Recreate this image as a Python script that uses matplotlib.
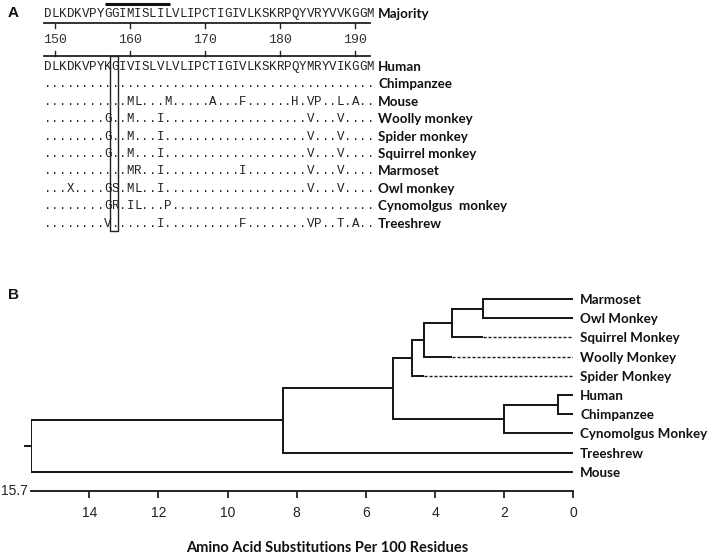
import matplotlib
matplotlib.use("Agg")
import matplotlib.pyplot as plt
from matplotlib.patches import Rectangle

# ---------------- Panel A data ----------------
majority = "DLKDKVPYGGIMISLILVLIPCTIGIVLKSKRPQYVRYVVKGGM"
species_a = ["Human", "Chimpanzee", "Mouse", "Woolly monkey", "Spider monkey",
             "Squirrel monkey", "Marmoset", "Owl monkey", "Cynomolgus  monkey", "Treeshrew"]
sequences = [
    "DLKDKVPYKGIVISLVLVLIPCTIGIVLKSKRPQYMRYVIKGGM",
    "............................................",
    "...........ML...M.....A...F......H.VP..L.A..",
    "........G..M...I...................V...V....",
    "........G..M...I...................V...V....",
    "........G..M...I...................V...V....",
    "...........MR..I..........I........V...V....",
    "...X....GS.ML..I...................V...V....",
    "........GR.IL...P...........................",
    "........V......I..........F........VP..T.A..",
]
first_residue = 149
ruler_ticks = [150, 160, 170, 180, 190]
overline_span = (8.1, 16.8)      # residue-column span of the bar above the majority
box_column = 9                    # boxed alignment column

# ---------------- Panel B data ----------------
leaves = ["Marmoset", "Owl Monkey", "Squirrel Monkey", "Woolly Monkey", "Spider Monkey",
          "Human", "Chimpanzee", "Cynomolgus Monkey", "Treeshrew", "Mouse"]
# nested (height, left, right); ints are leaf indices
tree = (15.7,
        (8.40,
         (5.22,
          (4.67, (4.32, (3.51, (2.61, 0, 1), 2), 3), 4),
          (2.00, (0.44, 5, 6), 7)),
         8),
        9)
dash_from = [None, None, 2.61, 3.51, 4.32, None, None, None, None, None]
x_ticks = [14, 12, 10, 8, 6, 4, 2, 0]
root_value = 15.7

W, H = 709, 556
fig = plt.figure(figsize=(W / 100, H / 100), dpi=100)

LABEL_FONT = dict(family=["Lato", "DejaVu Sans"], fontweight="bold", fontsize=9.6)
MONO = dict(family=["Liberation Mono", "DejaVu Sans Mono"], fontsize=9)

# ---------------- Panel A ----------------
x0, cw = 44.0, 7.5     # px origin and char width
y0, rh = 66.0, 17.4    # px of first row, row height
topA = 245.0
axA = fig.add_axes([0, 1 - topA / H, 1, topA / H])
axA.set_xlim((0 - x0) / cw, (W - x0) / cw)
axA.set_ylim((topA - y0) / rh, (0 - y0) / rh)
axA.axis("off")

def prow(px):
    return (px - y0) / rh

lw_line = 1.3
ncol = len(majority)
# majority
maj_y = prow(13)
for i, ch in enumerate(majority):
    axA.text(i + 0.5, maj_y + 0.23, ch, ha="center", va="baseline", color="#222222", **MONO)
axA.text(ncol + 0.55, maj_y + 0.29, "Majority", ha="left", va="baseline", color="#111111", **LABEL_FONT)
# overline
axA.plot(overline_span, [prow(4)] * 2, color="#111111", lw=2.2, solid_capstyle="butt")
# ruler
rt, rb = prow(23), prow(56)
axA.plot([0, ncol - 0.5], [rt, rt], color="#222222", lw=lw_line)
axA.plot([0, ncol - 0.5], [rb, rb], color="#222222", lw=lw_line)
for r in ruler_ticks:
    c = r - first_residue + 0.5
    axA.plot([c, c], [rt, prow(28)], color="#222222", lw=1.0)
    axA.plot([c, c], [rb, prow(51)], color="#222222", lw=1.0)
    axA.text(c, prow(40), str(r), ha="center", va="center", color="#333333",
             family=["Liberation Mono", "DejaVu Sans Mono"], fontsize=9.5)
# sequences
for row, (name, seq) in enumerate(zip(species_a, sequences)):
    seq = seq.ljust(ncol, ".")[:ncol]
    for i, ch in enumerate(seq):
        axA.text(i + 0.5, row + 0.23, ch, ha="center", va="baseline", color="#222222", **MONO)
    axA.text(ncol + 0.55, row + 0.29, name, ha="left", va="baseline", color="#111111", **LABEL_FONT)
# box
axA.add_patch(Rectangle((box_column - 0.2, rb), 1.0, prow(231) - rb, fill=False,
                        edgecolor="#222222", lw=1.0))
axA.text((8 - x0) / cw, prow(13), "A", ha="left", va="center", fontsize=11,
         fontweight="bold", family=["Liberation Sans", "DejaVu Sans"], color="#111111")

# ---------------- Panel B ----------------
px_left, px_right = 30.5, 573.3
py_top, py_bottom = 280.0, 491.0
leaf_y0, leaf_dy = 299.0, 19.2
axB = fig.add_axes([px_left / W, 1 - py_bottom / H, (px_right - px_left) / W, (py_bottom - py_top) / H])
axB.set_xlim(root_value, 0)
axB.set_ylim((py_bottom - leaf_y0) / leaf_dy, (py_top - leaf_y0) / leaf_dy)
for s in ["top", "left", "right"]:
    axB.spines[s].set_visible(False)
axB.spines["bottom"].set_linewidth(1.4)
axB.spines["bottom"].set_color("#222222")
axB.set_yticks([])
axB.set_xticks(x_ticks)
axB.set_xticklabels([str(t) for t in x_ticks], family=["Liberation Sans", "DejaVu Sans"],
                    fontsize=10, color="#222222")
axB.tick_params(axis="x", direction="out", length=5, width=1.3, pad=6, color="#222222")

tlw = 1.45
tcol = "#1a1a1a"

def draw(node):
    if isinstance(node, int):
        return float(node), 0.0
    h, left, right = node
    ys = []
    for child in (left, right):
        yc, hc = draw(child)
        ys.append(yc)
        if isinstance(child, int) and dash_from[child] is not None:
            d = dash_from[child]
            axB.plot([h, d], [yc, yc], color=tcol, lw=tlw, solid_capstyle="butt")
            axB.plot([d, hc], [yc, yc], color=tcol, lw=1.0, linestyle=(0, (2.2, 1.4)))
        else:
            axB.plot([h, hc], [yc, yc], color=tcol, lw=tlw, solid_capstyle="butt")
    axB.plot([h, h], [ys[0], ys[1]], color=tcol, lw=tlw, solid_capstyle="projecting")
    return (ys[0] + ys[1]) / 2, h

root_y, _ = draw(tree)
axB.plot([root_value, root_value + 0.15], [root_y, root_y], color=tcol, lw=tlw, clip_on=False)

for i, name in enumerate(leaves):
    axB.annotate(name, xy=(0, i), xytext=(5, 0), textcoords="offset points",
                 ha="left", va="center_baseline", color="#111111", annotation_clip=False,
                 **LABEL_FONT)

axB.annotate("15.7", xy=(root_value, (py_bottom - leaf_y0) / leaf_dy), xytext=(-2, 0),
             textcoords="offset points", ha="right", va="center", fontsize=10,
             family=["Liberation Sans", "DejaVu Sans"], color="#222222", annotation_clip=False)

axB.set_xlabel("Amino Acid Substitutions Per 100 Residues", fontsize=10.5, fontweight="bold",
               family=["Lato", "DejaVu Sans"], color="#111111", va="center")
axB.xaxis.set_label_coords((327 - px_left) / (px_right - px_left), -(548 - py_bottom) / (py_bottom - py_top))

fig.text(8 / W, 1 - 295 / H, "B", ha="left", va="center", fontsize=11, fontweight="bold",
         family=["Liberation Sans", "DejaVu Sans"], color="#111111")

fig.savefig("out.png", dpi=100)
